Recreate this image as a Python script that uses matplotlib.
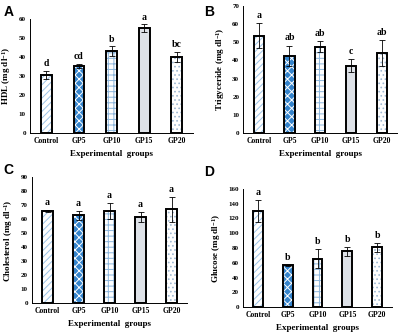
import matplotlib
matplotlib.use("Agg")
import matplotlib.pyplot as plt
import numpy as np

groups = ["Control", "GP5", "GP10", "GP15", "GP20"]

hdl = [30.6, 35.2, 43.0, 55.2, 40.1]
hdl_err = [2.0, 1.0, 2.6, 2.0, 2.7]
hdl_letters = ["d", "cd", "b", "a", "bc"]

tg = [53.6, 42.6, 47.6, 37.0, 43.9]
tg_err = [7.0, 5.5, 3.0, 3.5, 7.0]
tg_letters = ["a", "ab", "ab", "c", "ab"]

chol = [66.0, 62.8, 66.0, 61.6, 67.2]
chol_err = [0.7, 3.0, 5.5, 3.3, 9.0]
chol_letters = ["a", "a", "a", "a", "a"]

glu = [129.5, 56.5, 65.6, 75.3, 80.8]
glu_err = [15.0, 1.0, 13.0, 6.0, 6.0]
glu_letters = ["a", "b", "b", "b", "b"]

# fill / hatch style per group
faces = ["white", "#3584cc", "white", "#dde1e7", "white"]
hatches = ["/////", "xxxx", "+++", None, "...."]
hatch_cols = ["#9cc3e6", "white", "#8db6dc", "#dde1e7", "#9fb8d2"]

serif = "Liberation Serif"
plt.rcParams["hatch.linewidth"] = 0.7
plt.rcParams["mathtext.fontset"] = "custom"
plt.rcParams["mathtext.rm"] = "Liberation Serif:bold"
plt.rcParams["mathtext.bf"] = "Liberation Serif:bold"
plt.rcParams["mathtext.default"] = "rm"

fig = plt.figure(figsize=(4.01, 3.34), dpi=100)

panels = [
    ("A", [0.075, 0.601, 0.4065, 0.342], hdl, hdl_err, hdl_letters, 60, 10, "HDL (mg dl$^{-1}$)"),
    ("B", [0.607, 0.601, 0.383, 0.382], tg, tg_err, tg_letters, 70, 10, "Trigyceride (mg dl$^{-1}$)"),
    ("C", [0.080, 0.092, 0.3865, 0.377], chol, chol_err, chol_letters, 90, 10, "Cholesterol (mg dl$^{-1}$)"),
    ("D", [0.606, 0.080, 0.3716, 0.355], glu, glu_err, glu_letters, 160, 20, "Glucose (mg dl$^{-1}$)"),
]

letter_pos = {"A": (0.008, 0.965), "B": (0.51, 0.965), "C": (0.008, 0.49), "D": (0.508, 0.485)}

for name, rect, vals, errs, lets, ymax, step, ylab in panels:
    ax = fig.add_axes(rect)
    x = np.arange(len(groups))
    w = 0.33
    # hatch layer, then outline layer
    for i in range(len(groups)):
        ax.bar(x[i], vals[i], width=w, color=faces[i], hatch=hatches[i],
               edgecolor=hatch_cols[i], linewidth=0, zorder=2)
    ax.bar(x, vals, width=w, fill=False, edgecolor="black", linewidth=1.4, zorder=3)
    ax.errorbar(x, vals, yerr=errs, fmt="none", ecolor="black", elinewidth=0.6,
                capsize=2, capthick=0.6, zorder=4)
    for i in range(len(groups)):
        ax.text(x[i], vals[i] + errs[i] + ymax * 0.025, lets[i], ha="center", va="bottom",
                family=serif, fontweight="bold", fontsize=7)
    ax.set_xlim(-0.5, 4.5)
    ax.set_ylim(0, ymax)
    ax.set_yticks(np.arange(0, ymax + 1, step))
    ax.set_xticks(x)
    ax.set_xticklabels(groups)
    ax.tick_params(length=0, pad=3)
    for lab in ax.get_xticklabels():
        lab.set_family(serif)
        lab.set_fontweight("bold")
        lab.set_fontsize(5.5)
    for lab in ax.get_yticklabels():
        lab.set_family(serif)
        lab.set_fontweight("bold")
        lab.set_fontsize(5)
    ax.spines["top"].set_visible(False)
    ax.spines["right"].set_visible(False)
    ax.spines["left"].set_linewidth(0.7)
    ax.spines["bottom"].set_linewidth(0.7)
    ax.set_ylabel(ylab, family=serif, fontweight="bold", fontsize=6.5, labelpad=4)
    ax.set_xlabel("Experimental  groups", family=serif, fontweight="bold", fontsize=6.5, labelpad=3.5)
    lx, ly = letter_pos[name]
    fig.text(lx, ly, name, family="Liberation Sans", fontweight="bold", fontsize=10,
             ha="left", va="center")

fig.savefig("out.png", dpi=100)
